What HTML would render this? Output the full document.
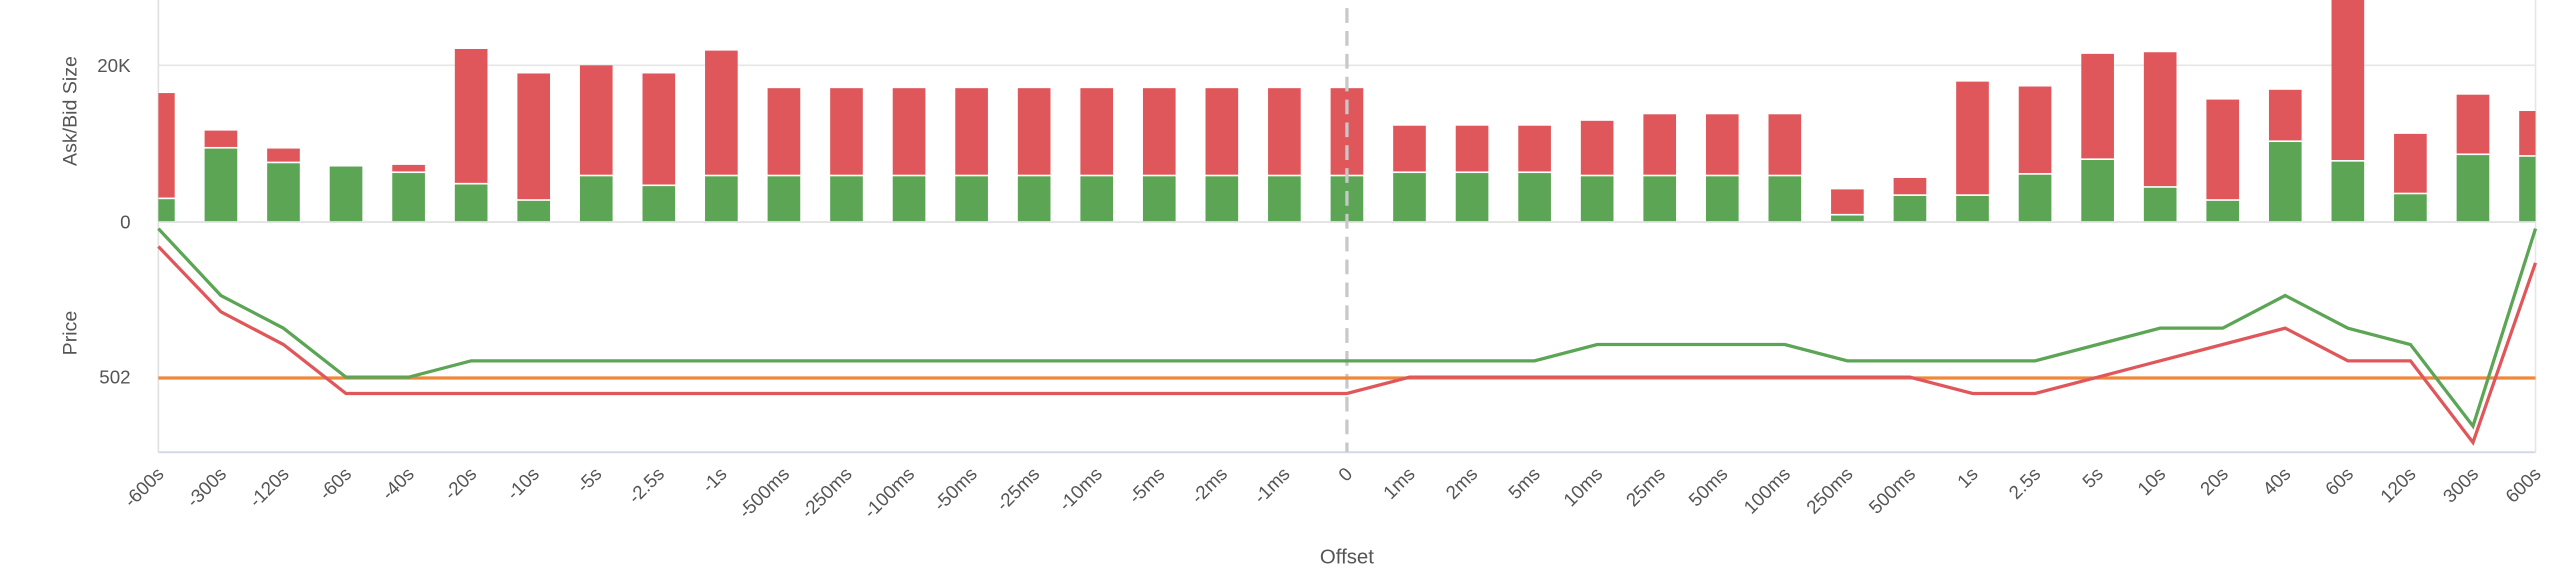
<!DOCTYPE html>
<html><head><meta charset="utf-8"><style>
html,body{margin:0;padding:0;background:#fff;width:2560px;height:577px;overflow:hidden}
svg{display:block}
text{font-family:"Liberation Sans",Arial,sans-serif;fill:#555}
</style></head><body>
<svg id="s" width="2560" height="577" viewBox="0 0 1568 353.4" preserveAspectRatio="none" xmlns="http://www.w3.org/2000/svg"></svg>
<script>
const labels=["-600s","-300s","-120s","-60s","-40s","-20s","-10s","-5s","-2.5s","-1s","-500ms","-250ms","-100ms","-50ms","-25ms","-10ms","-5ms","-2ms","-1ms","0","1ms","2ms","5ms","10ms","25ms","50ms","100ms","250ms","500ms","1s","2.5s","5s","10s","20s","40s","60s","120s","300s","600s"];
const red=[57,80,91,null,101,30,45,40,45,31,54,54,54,54,54,54,54,54,54,54,77,77,77,74,70,70,70,116,109,50,53,33,32,61,55,-10,82,58,68];
const grn=[122,91,100,102,106,113,123,108,114,108,108,108,108,108,108,108,108,108,108,108,106,106,106,108,108,108,108,132,120,120,107,98,115,123,87,99,119,95,96];
const gl=[140,181,201,231,231,221,221,221,221,221,221,221,221,221,221,221,221,221,221,221,221,221,221,211,211,211,211,221,221,221,221,211,201,201,181,201,211,261,140];
const rl=[151,191,211,241,241,241,241,241,241,241,241,241,241,241,241,241,241,241,241,241,231,231,231,231,231,231,231,231,231,241,241,231,221,211,201,221,221,271,161];
const L=97,R=1553,B=136,n=39,dx=(R-L)/(n-1),bw=20;
const X=i=>L+i*dx;
let h='';
h+=`<line x1="${L}" y1="40" x2="${R}" y2="40" stroke="#e6e6e6" stroke-width="1"/>`;
h+=`<line x1="${R}" y1="0" x2="${R}" y2="277" stroke="#e6e6e6" stroke-width="1"/>`;
h+=`<line x1="${L}" y1="0" x2="${L}" y2="277" stroke="#e0e0e0" stroke-width="1"/>`;
h+=`<clipPath id="c"><rect x="${L}" y="0" width="${R-L}" height="277"/></clipPath><g clip-path="url(#c)">`;
for(let i=0;i<n;i++){const x=X(i)-bw/2;
 if(red[i]!==null)h+=`<rect x="${x}" y="${red[i]}" width="${bw}" height="${grn[i]-1-red[i]}" fill="#e0575b"/>`;
 h+=`<rect x="${x}" y="${grn[i]}" width="${bw}" height="${B-grn[i]}" fill="#5ba555"/>`;}
h+='</g>';
h+=`<line x1="${L}" y1="${B}" x2="${R}" y2="${B}" stroke="#e3e3e3" stroke-width="1.2"/>`;
h+=`<line x1="${L}" y1="277" x2="${R}" y2="277" stroke="#d3d9ea" stroke-width="1.2"/>`;
h+=`<line x1="${X(19)}" y1="5" x2="${X(19)}" y2="277" stroke="#c8c8c8" stroke-width="2" stroke-dasharray="9,5"/>`;
h+=`<line x1="${L}" y1="231.5" x2="${R}" y2="231.5" stroke="#f0883a" stroke-width="2"/>`;
const pts=a=>a.map((v,i)=>X(i).toFixed(1)+','+v).join(' ');
h+=`<polyline points="${pts(rl)}" fill="none" stroke="#e0575b" stroke-width="2"/>`;
h+=`<polyline points="${pts(gl)}" fill="none" stroke="#5ba555" stroke-width="2"/>`;
h+=`<text x="80" y="44" font-size="11.5" text-anchor="end">20K</text>`;
h+=`<text x="80" y="140" font-size="11.5" text-anchor="end">0</text>`;
h+=`<text x="80" y="235" font-size="11.5" text-anchor="end">502</text>`;
h+=`<text transform="translate(47,68) rotate(-90)" font-size="12" text-anchor="middle">Ask/Bid Size</text>`;
h+=`<text transform="translate(47,204) rotate(-90)" font-size="12" text-anchor="middle">Price</text>`;
for(let i=0;i<n;i++){h+=`<text transform="translate(${X(i)+4},291) rotate(-45)" font-size="11.5" text-anchor="end">${labels[i]}</text>`;}
h+=`<text x="${X(19)}" y="345" font-size="12.5" text-anchor="middle">Offset</text>`;
document.getElementById('s').innerHTML=h;
</script>
</body></html>
